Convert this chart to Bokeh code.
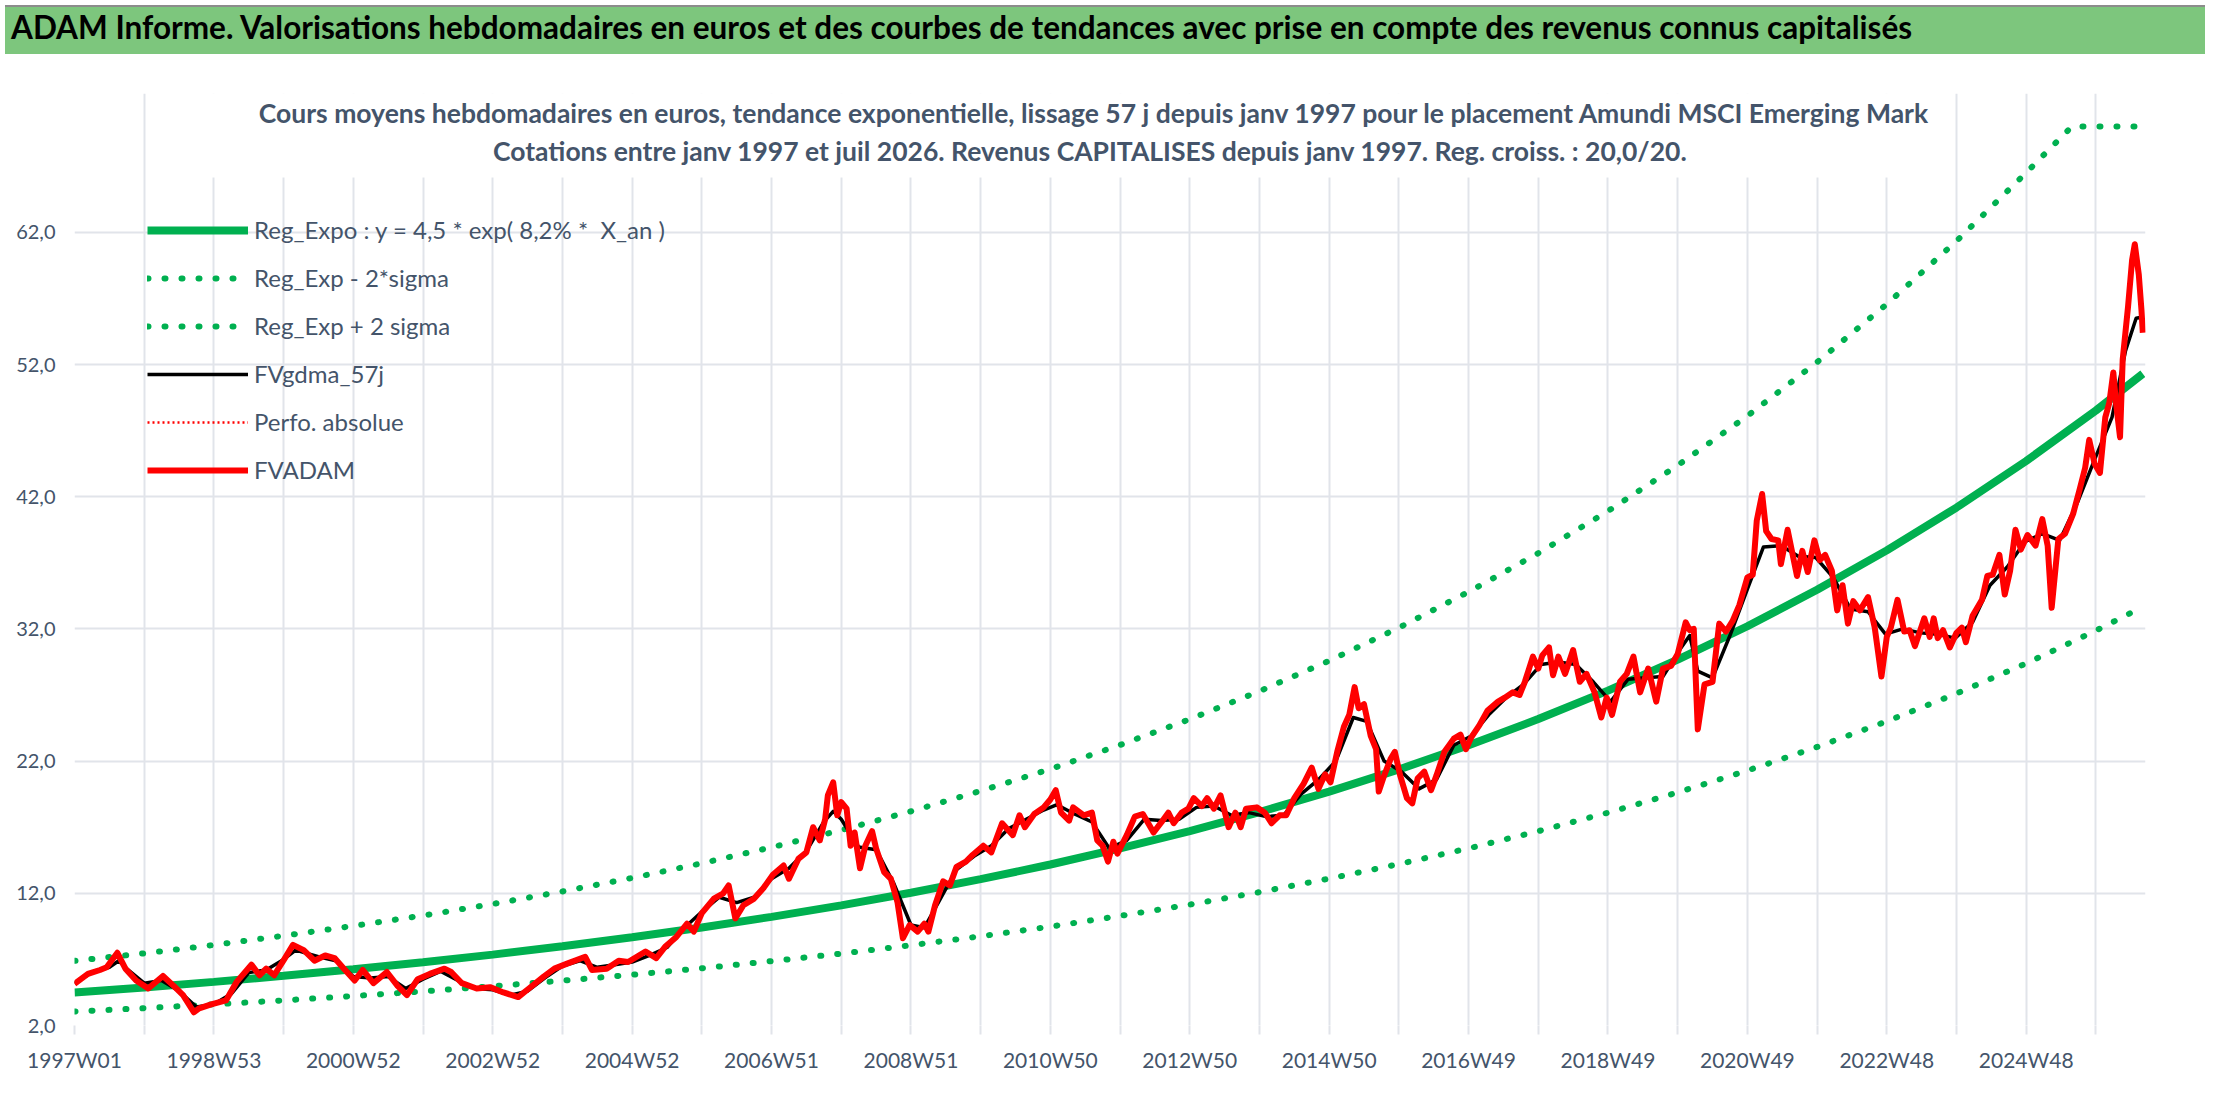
from bokeh.plotting import figure
from bokeh.models import Range1d, FixedTicker, Label, Legend, LegendItem, BoxAnnotation, Div
from bokeh.layouts import column
from bokeh.embed import file_html
from bokeh.resources import INLINE

TITLE = "ADAM Informe. Valorisations hebdomadaires en euros et des courbes de tendances avec prise en compte des revenus connus capitalisés"
SUB1 = "Cours moyens hebdomadaires en euros, tendance exponentielle, lissage 57 j depuis janv 1997 pour le placement Amundi MSCI Emerging Mark"
SUB2 = "Cotations entre janv 1997 et juil 2026. Revenus CAPITALISES depuis janv 1997. Reg. croiss. : 20,0/20."

# x = week index since 1997W01
x_tick_labels = ["1997W01", "1998W53", "2000W52", "2002W52", "2004W52", "2006W51", "2008W51",
                 "2010W50", "2012W50", "2014W50", "2016W49", "2018W49", "2020W49", "2022W48", "2024W48"]
y_tick_values = [2, 12, 22, 32, 42, 52, 62]
y_tick_labels = ["2,0", "12,0", "22,0", "32,0", "42,0", "52,0", "62,0"]
n_weeks = 1545
y_axis_max = 70

legend_labels = ["Reg_Expo : y = 4,5 * exp( 8,2% *  X_an )", "Reg_Exp - 2*sigma", "Reg_Exp + 2 sigma",
                 "FVgdma_57j", "Perfo. absolue", "FVADAM"]

# Trend curves (read at yearly points)
trend_w = [0, 52, 104, 156, 208, 260, 312, 364, 416, 468, 520, 572, 624, 676, 728, 780, 832, 884, 936, 988,
           1040, 1092, 1144, 1196, 1248, 1300, 1352, 1404, 1456, 1508, 1543]
trend_v = [4.50, 4.88, 5.30, 5.76, 6.25, 6.78, 7.36, 7.99, 8.67, 9.41, 10.22, 11.09, 12.04, 13.07, 14.18,
           15.40, 16.71, 18.14, 19.69, 21.37, 23.20, 25.18, 27.33, 29.67, 32.20, 34.96, 37.94, 41.18,
           44.70, 48.52, 51.30]
lower_v = [3.06, 3.31, 3.60, 3.90, 4.23, 4.58, 4.97, 5.39, 5.84, 6.33, 6.87, 7.44, 8.07, 8.75, 9.48,
           10.29, 11.15, 12.09, 13.11, 14.21, 15.40, 16.70, 18.10, 19.63, 21.28, 23.07, 25.01, 27.11,
           29.39, 31.87, 33.67]
upper_w = [0, 52, 104, 156, 208, 260, 312, 364, 416, 468, 520, 572, 624, 676, 728, 780, 832, 884, 936, 988,
           1040, 1092, 1144, 1196, 1248, 1300, 1352, 1404, 1456, 1490, 1543]
upper_v = [6.89, 7.46, 8.09, 8.79, 9.53, 10.32, 11.19, 12.14, 13.16, 14.27, 15.48, 16.78, 18.20, 19.74,
           21.40, 23.22, 25.17, 27.29, 29.59, 32.09, 34.80, 37.73, 40.91, 44.37, 48.11, 52.18, 56.57,
           61.34, 66.51, 70.0, 70.0]

# FVADAM weekly values (red)
red_w = [0, 10, 19, 24, 32, 38, 46, 55, 66, 74, 81, 89, 93, 102, 113, 121, 132, 138, 143, 149, 157, 163,
         171, 179, 187, 194, 201, 209, 215, 223, 233, 241, 248, 256, 265, 276, 281, 289, 300, 310, 320, 331,
         339, 350, 358, 368, 381, 386, 397, 406, 413, 426, 434, 441, 449, 457, 462, 468, 477, 484, 488, 493,
         499, 507, 514, 521, 529, 533, 540, 546, 551, 556, 560, 562, 566, 569, 572, 576, 579, 582, 586, 590,
         595, 598, 604, 609, 614, 618, 623, 629, 634, 637, 642, 648, 653, 658, 665, 670, 678, 684, 692, 700,
         705, 709, 716, 723, 728, 732, 736, 742, 745, 753, 759, 763, 767, 771, 775, 778, 785, 791, 797, 805,
         811, 816, 820, 826, 831, 835, 841, 845, 850, 855, 861, 866, 870, 874, 882, 888, 893, 899, 904, 910,
         917, 923, 928, 933, 937, 942, 947, 951, 955, 958, 962, 967, 971, 973, 977, 982, 985, 989, 994, 998,
         1002, 1007, 1012, 1016, 1022, 1029, 1034, 1038, 1042, 1048, 1054, 1062, 1067, 1073, 1078, 1082,
         1088, 1092, 1095, 1100, 1103, 1107, 1112, 1118, 1123, 1128, 1134, 1139, 1143, 1147, 1153, 1158,
         1163, 1168, 1174, 1180, 1185, 1191, 1196, 1202, 1205, 1208, 1211, 1216, 1222, 1227, 1232, 1237,
         1242, 1248, 1252, 1255, 1259, 1262, 1266, 1271, 1273, 1278, 1281, 1285, 1289, 1293, 1298, 1302,
         1306, 1311, 1315, 1319, 1323, 1327, 1332, 1338, 1343, 1348, 1352, 1355, 1360, 1365, 1369, 1373,
         1380, 1384, 1387, 1390, 1394, 1399, 1404, 1408, 1411, 1416, 1423, 1427, 1431, 1436, 1440, 1444,
         1448, 1452, 1457, 1463, 1468, 1472, 1475, 1480, 1485, 1491, 1496, 1500, 1503, 1507, 1511, 1515,
         1518, 1521, 1523, 1526, 1528, 1532, 1535, 1537, 1540, 1542, 1543]
red_v = [5.16, 5.9, 6.2, 6.4, 7.5, 6.3, 5.4, 4.8, 5.75, 5.0, 4.3, 3.0, 3.3, 3.6, 3.9, 5.3, 6.6, 5.8, 6.3,
         5.8, 7.1, 8.1, 7.7, 6.9, 7.3, 7.1, 6.3, 5.4, 6.2, 5.2, 6.05, 5.0, 4.3, 5.5, 5.9, 6.3, 6.05, 5.2, 4.8,
         4.9, 4.5, 4.15, 4.8, 5.7, 6.3, 6.7, 7.2, 6.2, 6.3, 6.9, 6.8, 7.6, 7.1, 8.0, 8.7, 9.7, 9.1, 10.5, 11.6,
         12.0, 12.6, 10.1, 11.1, 11.6, 12.4, 13.4, 14.1, 13.1, 14.6, 15.1, 17.0, 16.0, 17.6, 19.4, 20.4, 17.9,
         18.9, 18.4, 15.6, 16.6, 13.9, 15.6, 16.7, 15.4, 13.6, 13.1, 11.3, 8.6, 9.6, 9.1, 9.7, 9.1, 11.1, 12.9,
         12.6, 14.0, 14.4, 14.9, 15.6, 15.1, 17.3, 16.4, 17.9, 17.0, 18.0, 18.5, 19.1, 19.8, 18.1, 17.5, 18.5,
         17.9, 18.1, 16.0, 15.6, 14.4, 15.9, 15.0, 16.4, 17.8, 18.0, 16.6, 17.4, 18.1, 17.3, 18.1, 18.4, 19.2,
         18.6, 19.2, 18.4, 19.4, 17.0, 18.1, 17.0, 18.4, 18.5, 18.1, 17.3, 17.9, 17.9, 19.2, 20.3, 21.5, 19.9,
         21.0, 20.4, 22.7, 24.6, 25.5, 27.6, 26.0, 26.3, 23.9, 22.9, 19.7, 20.9, 22.2, 22.7, 20.9, 19.2, 18.8,
         20.7, 21.2, 19.8, 20.9, 22.7, 23.7, 24.0, 22.9, 23.8, 24.7, 25.8, 26.5, 26.8, 27.2, 27.0, 28.0, 29.9,
         29.0, 30.0, 30.6, 28.5, 29.9, 28.6, 30.4, 28.0, 28.6, 27.2, 25.3, 26.8, 25.5, 28.0, 28.6, 29.9, 27.2,
         29.0, 26.5, 29.0, 29.2, 30.1, 32.5, 31.9, 32.0, 24.4, 27.8, 28.0, 32.4, 31.8, 32.6, 33.8, 35.9, 36.1,
         40.2, 42.2, 39.4, 38.8, 38.7, 36.9, 39.5, 38.0, 36.0, 37.9, 36.3, 38.7, 37.2, 37.6, 36.4, 33.4, 35.3,
         32.4, 34.1, 33.4, 34.4, 32.1, 28.4, 31.4, 32.1, 34.2, 31.8, 31.9, 30.7, 32.8, 31.4, 32.8, 31.3, 31.9,
         30.6, 31.7, 32.1, 31.0, 33.0, 34.2, 36.0, 36.1, 37.6, 34.6, 36.4, 39.5, 38.0, 39.1, 38.3, 40.3, 38.3,
         33.6, 38.8, 39.2, 40.7, 42.6, 44.2, 46.3, 44.5, 43.8, 48.0, 49.1, 51.4, 49.1, 46.5, 52.4, 56.4, 59.9,
         61.1, 58.8, 56.1, 54.4]

# FVgdma_57j smoothed values (black)
black_w = [0, 13, 26, 33, 40, 52, 65, 78, 91, 104, 117, 130, 143, 156, 165, 182, 195, 208, 221, 234, 247,
           260, 273, 286, 299, 312, 325, 338, 351, 364, 377, 390, 403, 416, 429, 442, 455, 468, 481, 494, 507,
           520, 533, 546, 559, 566, 572, 585, 598, 611, 624, 634, 645, 658, 671, 684, 697, 710, 723, 733, 746,
           759, 772, 785, 798, 811, 824, 837, 850, 863, 876, 889, 902, 915, 928, 941, 954, 964, 977, 990, 1003,
           1016, 1029, 1042, 1055, 1068, 1081, 1094, 1107, 1120, 1133, 1146, 1159, 1172, 1185, 1198, 1205,
           1211, 1222, 1235, 1248, 1260, 1273, 1286, 1299, 1312, 1325, 1338, 1351, 1364, 1377, 1390, 1403,
           1416, 1429, 1442, 1455, 1468, 1481, 1494, 1507, 1520, 1530, 1538, 1543]
black_v = [5.2, 6.0, 6.4, 6.9, 6.2, 5.2, 5.4, 4.6, 3.4, 3.6, 4.4, 6.0, 6.2, 7.0, 7.7, 7.2, 6.9, 5.7, 5.6,
           5.7, 4.8, 5.5, 6.1, 5.4, 4.8, 4.7, 4.3, 4.6, 5.6, 6.5, 6.9, 6.4, 6.6, 6.8, 7.3, 7.9, 9.4, 10.6,
           11.7, 11.3, 11.7, 13.1, 13.9, 15.2, 17.4, 18.2, 17.6, 15.5, 15.3, 12.8, 9.6, 9.4, 11.4, 13.8, 14.8,
           15.6, 16.9, 17.6, 18.3, 18.7, 18.0, 17.4, 15.4, 16.0, 17.6, 17.5, 17.6, 18.5, 18.6, 17.9, 18.1,
           17.8, 17.9, 19.5, 20.6, 22.0, 25.3, 25.0, 22.0, 21.2, 19.9, 20.6, 23.2, 23.9, 25.5, 26.8, 27.8,
           29.3, 29.5, 29.3, 28.0, 26.5, 28.2, 28.3, 28.4, 30.5, 31.5, 28.8, 28.3, 31.5, 35.0, 38.2, 38.3,
           37.5, 37.4, 35.9, 33.5, 33.3, 31.6, 32.0, 31.7, 31.6, 31.3, 32.5, 35.3, 36.7, 38.6, 39.2, 38.7,
           41.5, 44.8, 48.0, 53.0, 55.5, 55.6]

GREEN = "#00B050"
TXT = "#44546A"
GRID = "#E1E4EA"
FONT = "Lato"

# ---------- header band ----------
hdr = Div(text='<div style="padding-left:6px;white-space:nowrap;">' + TITLE + '</div>',
          width=2200, height=49,
          styles={"background-color": "#7DC67D", "font-family": "Lato", "font-weight": "bold",
                  "font-size": "31.5px", "line-height": "40px", "color": "black",
                  "border-top": "2px solid #8C8C8C", "box-sizing": "border-box", "overflow": "hidden"})

# ---------- main chart ----------
p = figure(width=2200, height=1033, x_range=Range1d(0, n_weeks), y_range=Range1d(2, 72.5),
           toolbar_location=None, output_backend="svg",
           min_border_left=74, min_border_right=55, min_border_top=34, min_border_bottom=67)
p.outline_line_color = None
p.background_fill_color = "white"
p.border_fill_color = "white"

xt = FixedTicker(ticks=[52 * k for k in range(30)])
yt = FixedTicker(ticks=y_tick_values)
p.xaxis.ticker = xt
p.yaxis.ticker = yt
p.xgrid.ticker = xt
p.ygrid.ticker = yt
p.xgrid.bounds = (2, y_axis_max)
p.xgrid.grid_line_color = GRID
p.ygrid.grid_line_color = GRID
p.xgrid.grid_line_width = 2
p.ygrid.grid_line_width = 2

overrides = {}
for k in range(30):
    overrides[52 * k] = x_tick_labels[k // 2] if k % 2 == 0 else ""
p.xaxis.major_label_overrides = overrides
p.yaxis.major_label_overrides = dict(zip(y_tick_values, y_tick_labels))

for ax in (p.xaxis, p.yaxis):
    ax.axis_line_color = None
    ax.minor_tick_line_color = None
    ax.major_label_text_font = FONT
    ax.major_label_text_color = TXT
p.xaxis.major_label_text_font_size = "21px"
p.yaxis.major_label_text_font_size = "20px"
p.yaxis.major_tick_line_color = None
p.yaxis.major_label_standoff = 13
p.xaxis.major_tick_line_color = GRID
p.xaxis.major_tick_line_width = 2
p.xaxis.major_tick_in = 0
p.xaxis.major_tick_out = 9
p.xaxis.major_label_standoff = 12

# white box behind the subtitle
p.add_layout(BoxAnnotation(left=113, right=1878, top=940, bottom=848, left_units="screen",
                           right_units="screen", top_units="screen", bottom_units="screen",
                           fill_color="white", fill_alpha=1, line_color=None, level="underlay"))

r_low = p.line(trend_w, lower_v, line_color=GREEN, line_width=6, line_dash="1 16", line_cap="round")
r_up = p.line(upper_w, upper_v, line_color=GREEN, line_width=6, line_dash="1 16", line_cap="round")
r_trend = p.line(trend_w, trend_v, line_color=GREEN, line_width=8)
r_black = p.line(black_w, black_v, line_color="black", line_width=3.5, line_join="round")
r_perf = p.line(red_w, red_v, line_color="red", line_width=2.5, line_dash="2 3")
r_red = p.line(red_w, red_v, line_color="#FF0000", line_width=6, line_join="round")

legend = Legend(items=[LegendItem(label=legend_labels[0], renderers=[r_trend]),
                       LegendItem(label=legend_labels[1], renderers=[r_low]),
                       LegendItem(label=legend_labels[2], renderers=[r_up]),
                       LegendItem(label=legend_labels[3], renderers=[r_black]),
                       LegendItem(label=legend_labels[4], renderers=[r_perf]),
                       LegendItem(label=legend_labels[5], renderers=[r_red])],
                location=(73, 541))
legend.label_text_font = FONT
legend.label_text_font_size = "24px"
legend.label_text_color = TXT
legend.glyph_width = 101
legend.glyph_height = 28
legend.label_height = 28
legend.spacing = 19
legend.padding = 0
legend.margin = 0
legend.label_standoff = 6
legend.border_line_color = None
legend.background_fill_alpha = 0
p.add_layout(legend)

p.add_layout(Label(x=1020, y=913, x_units="screen", y_units="screen", text=SUB1, text_font=FONT,
                   text_font_style="bold", text_font_size="26.5px", text_align="center",
                   text_baseline="middle", text_color=TXT))
p.add_layout(Label(x=1016, y=875, x_units="screen", y_units="screen", text=SUB2, text_font=FONT,
                   text_font_style="bold", text_font_size="26.5px", text_align="center",
                   text_baseline="middle", text_color=TXT))

layout = column(hdr, p, spacing=0)
open("out.html", "w").write(file_html(layout, INLINE))
